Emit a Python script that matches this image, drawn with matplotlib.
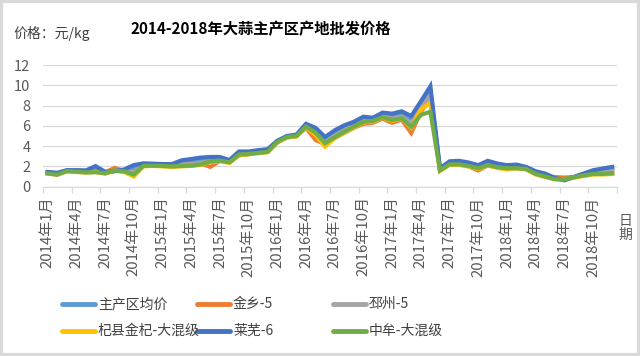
import numpy as np
import matplotlib.pyplot as plt
from matplotlib.patches import Rectangle
from matplotlib.lines import Line2D

plt.rcParams['font.family'] = ['Noto Sans CJK SC', 'DejaVu Sans']

# 月份 2014年1月 - 2018年12月
months = [f"{y}年{m}月" for y in range(2014, 2019) for m in range(1, 13)]

avg_main = [1.4, 1.3, 1.6, 1.58, 1.55, 1.75, 1.42, 1.55, 1.62, 1.75, 2.2, 2.2, 2.15, 2.15, 2.45,
            2.55, 2.7, 2.8, 2.8, 2.55, 3.35, 3.35, 3.5, 3.6, 4.45, 4.95, 5.05, 6.05, 5.6, 4.7,
            5.3, 5.85, 6.2, 6.7, 6.65, 7.1, 6.95, 7.2, 6.7, 8.2, 9.4, 1.75, 2.4, 2.45, 2.3,
            2.0, 2.45, 2.2, 2.05, 2.1, 1.9, 1.45, 1.2, 0.85, 0.7, 0.95, 1.25, 1.5, 1.65, 1.8]
jinxiang = [1.35, 1.25, 1.55, 1.5, 1.45, 1.5, 1.4, 1.85, 1.55, 1.4, 2.05, 2.05, 2.05, 2.0, 2.15,
            2.2, 2.3, 1.95, 2.55, 2.4, 3.1, 3.2, 3.35, 3.45, 4.4, 4.85, 5.0, 5.8, 4.6, 4.2,
            4.8, 5.3, 5.8, 6.2, 6.3, 6.7, 6.3, 6.6, 5.3, 7.4, 8.6, 1.6, 2.2, 2.2, 2.0,
            1.6, 2.1, 1.9, 1.85, 1.85, 1.75, 1.3, 1.05, 0.95, 0.9, 0.95, 1.1, 1.3, 1.35, 1.4]
pizhou = [1.35, 1.25, 1.55, 1.5, 1.45, 1.5, 1.3, 1.6, 1.55, 1.45, 2.1, 2.1, 2.1, 2.05, 2.2,
          2.2, 2.35, 2.6, 2.65, 2.45, 3.2, 3.25, 3.4, 3.5, 4.45, 4.9, 5.0, 5.95, 5.2, 4.5,
          5.0, 5.6, 6.0, 6.5, 6.55, 7.0, 6.7, 6.9, 6.2, 7.8, 9.0, 1.65, 2.3, 2.3, 2.2,
          1.9, 2.25, 2.0, 1.95, 1.95, 1.85, 1.35, 1.1, 0.8, 0.7, 0.9, 1.2, 1.45, 1.55, 1.65]
qixian = [1.3, 1.2, 1.5, 1.45, 1.4, 1.45, 1.3, 1.55, 1.45, 1.0, 2.0, 2.05, 2.0, 1.95, 2.0,
          2.05, 2.15, 2.45, 2.5, 2.35, 3.1, 3.2, 3.3, 3.4, 4.35, 4.85, 4.95, 5.85, 5.1, 3.95,
          4.8, 5.35, 5.85, 6.35, 6.4, 6.8, 6.5, 6.7, 5.8, 7.6, 8.3, 1.55, 2.15, 2.15, 2.0,
          1.75, 2.1, 1.85, 1.7, 1.8, 1.7, 1.2, 0.95, 0.75, 0.7, 0.9, 1.05, 1.2, 1.2, 1.25]
laiwu = [1.45, 1.37, 1.63, 1.63, 1.6, 2.03, 1.47, 1.53, 1.7, 2.13, 2.3, 2.27, 2.23, 2.23, 2.6,
         2.73, 2.87, 2.93, 2.93, 2.63, 3.47, 3.47, 3.6, 3.7, 4.53, 5.0, 5.13, 6.2, 5.8, 4.9,
         5.56, 6.05, 6.4, 6.9, 6.8, 7.3, 7.2, 7.43, 6.97, 8.4, 9.9, 1.8, 2.5, 2.55, 2.38,
         2.12, 2.55, 2.28, 2.12, 2.18, 1.95, 1.52, 1.29, 0.86, 0.63, 0.96, 1.29, 1.62, 1.79, 1.95]
zhongmu = [1.3, 1.17, 1.55, 1.47, 1.4, 1.43, 1.33, 1.6, 1.5, 1.2, 2.05, 2.07, 2.05, 2.0, 2.05,
           2.07, 2.2, 2.5, 2.57, 2.4, 3.17, 3.23, 3.33, 3.43, 4.4, 4.9, 5.0, 5.93, 5.33, 4.3,
           4.87, 5.43, 5.92, 6.4, 6.48, 6.84, 6.58, 6.74, 5.9, 7.07, 7.4, 1.6, 2.2, 2.2, 2.05,
           1.82, 2.15, 1.92, 1.82, 1.82, 1.75, 1.26, 1.0, 0.73, 0.73, 0.93, 1.1, 1.26, 1.26, 1.32]

series = [
    ("主产区均价", avg_main, '#5B9BD5'),
    ("金乡-5", jinxiang, '#ED7D31'),
    ("邳州-5", pizhou, '#A5A5A5'),
    ("杞县金杞-大混级", qixian, '#FFC000'),
    ("莱芜-6", laiwu, '#4472C4'),
    ("中牟-大混级", zhongmu, '#70AD47'),
]

fig = plt.figure(figsize=(6.4, 3.56), dpi=100)
# 外框
fig.patches.append(Rectangle((0.002, 0.003), 0.996, 0.994, transform=fig.transFigure,
                             fill=False, edgecolor='#d9d9d9', linewidth=3))
ax = fig.add_axes([0.067, 0.4756, 0.897, 0.3418])

x = np.arange(len(months))
for name, vals, color in series:
    ax.plot(x, vals, color=color, linewidth=3.0, label=name, solid_joinstyle='miter')

ax.set_xlim(-0.5, len(months) - 0.5)
ax.set_ylim(0, 12)
ax.set_yticks(np.arange(0, 13, 2))
ax.grid(axis='y', color='#d9d9d9', linewidth=0.9)
ax.set_axisbelow(True)
for s in ['top', 'right', 'left']:
    ax.spines[s].set_visible(False)
ax.spines['bottom'].set_color('#d9d9d9')
ax.spines['bottom'].set_linewidth(0.9)

ax.set_xticks(x[::3])
ax.set_xticklabels(months[::3], rotation=90, fontsize=10.8, color='#595959')
ax.set_xticks(np.arange(-0.5, len(months), 3), minor=True)
ax.tick_params(axis='x', which='major', length=0, pad=7)
ax.tick_params(axis='x', which='minor', length=4, color='#d9d9d9', width=0.9)
ax.tick_params(axis='y', length=0, labelsize=10.5, labelcolor='#595959', pad=9)

fig.text(0.408, 0.918, "2014-2018年大蒜主产区产地批发价格", fontsize=11, fontweight='bold',
         ha='center', va='center')
fig.text(0.021, 0.905, "价格：元/kg", fontsize=10, color='#404040', ha='left', va='center')
fig.text(0.977, 0.36, "日\n期", fontsize=10, color='#595959', ha='center', va='center',
         linespacing=1.0)

# 图例：两行三列，按行排列
col_x = [62, 197, 333]
row_y = [304, 331]
for k, (name, vals, color) in enumerate(series):
    cx = col_x[k % 3]
    cy = 1 - row_y[k // 3] / 356
    fig.lines.append(Line2D([cx / 640, (cx + 33) / 640], [cy, cy], transform=fig.transFigure,
                            color=color, linewidth=3.5, solid_capstyle='round'))
    fig.text((cx + 36) / 640, cy, name, fontsize=10, color='#404040', ha='left', va='center')

plt.savefig('out.png', dpi=100)
